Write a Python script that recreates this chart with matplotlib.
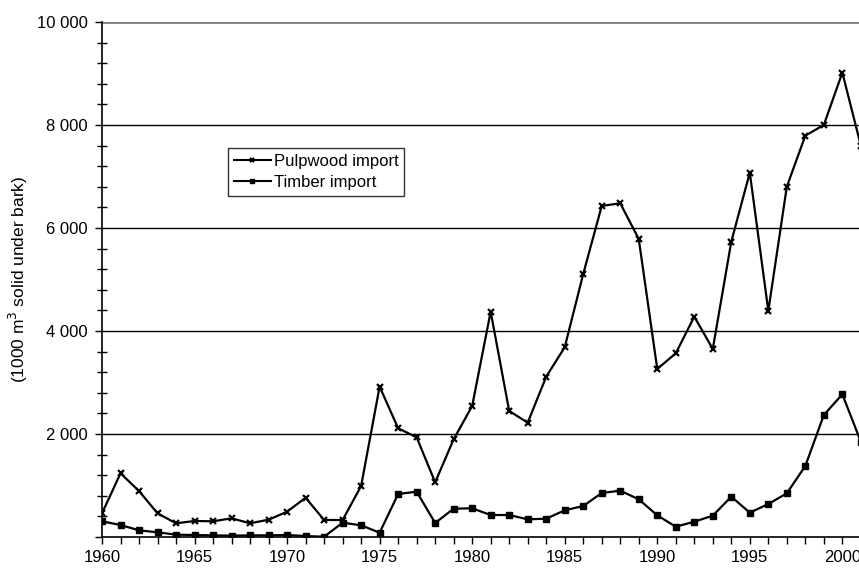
import matplotlib
matplotlib.use("Agg")
import matplotlib.pyplot as plt
from matplotlib.ticker import MultipleLocator, FuncFormatter

plt.rcParams['font.family'] = ['Liberation Sans', 'DejaVu Sans']

years = list(range(1960, 2002))
pulpwood = [460, 1237, 893, 460, 266, 311, 305, 363, 266, 336,
            491, 763, 330, 330, 990, 2919, 2111, 1936, 1062, 1897,
            2544, 4376, 2447, 2220, 3113, 3684, 5107, 6428, 6480, 5787,
            3263, 3567, 4278, 3651, 5735, 7075, 4389, 6803, 7793, 8001,
            9017, 7600]
timber = [305, 233, 130, 91, 45, 39, 32, 26, 32, 32,
          39, 19, 5, 278, 227, 84, 835, 880, 272, 550,
          557, 427, 427, 343, 356, 518, 602, 854, 900, 732,
          421, 200, 297, 414, 783, 472, 641, 848, 1379, 2369,
          2771, 1850]

fig = plt.figure(figsize=(8.59, 5.70), dpi=100)
ax = fig.add_axes([102/859, 1 - 537/570, (859 - 102)/859, (537 - 22)/570])

for yv in [2000, 4000, 6000, 8000]:
    ax.axhline(yv, color='black', lw=1.0, zorder=1)
ax.axhline(10000, color='#808080', lw=2.0, zorder=1)

ax.plot(years, pulpwood, color='black', lw=1.6, marker='x', markersize=5,
        markeredgewidth=1.6, label='Pulpwood import', zorder=3)
ax.plot(years, timber, color='black', lw=1.6, marker='s', markersize=4.5,
        label='Timber import', zorder=3)

ax.set_xlim(1960, 2000.9)
ax.set_ylim(0, 10000)

ax.xaxis.set_major_locator(MultipleLocator(5))
ax.xaxis.set_minor_locator(MultipleLocator(1))
ax.yaxis.set_major_locator(MultipleLocator(2000))
ax.yaxis.set_minor_locator(MultipleLocator(400))

def yfmt(v, pos):
    if v <= 0:
        return ''
    return f"{int(v):,}".replace(',', ' ')
ax.yaxis.set_major_formatter(FuncFormatter(yfmt))

ax.tick_params(axis='x', which='both', direction='out', length=5, width=1,
               labelsize=12, pad=4)
ax.tick_params(axis='y', which='major', direction='out', length=5, width=1,
               labelsize=12, pad=5)
ax.tick_params(axis='y', which='minor', direction='inout', length=7, width=1)

for s in ['top', 'right']:
    ax.spines[s].set_visible(False)
for s in ['left', 'bottom']:
    ax.spines[s].set_linewidth(1.2)
    ax.spines[s].set_color('black')

ax.set_ylabel('(1000 m$^3$ solid under bark)', fontsize=12.5)
ax.yaxis.set_label_coords((30 - 102) / 757, 0.5)

leg = ax.legend(loc='upper left', bbox_to_anchor=((228-102)/757, (537-148)/515),
                frameon=True, fancybox=False, edgecolor='black', fontsize=12,
                handlelength=2.2, borderpad=0.35, labelspacing=0.35,
                handletextpad=0.2, borderaxespad=0)
leg.get_frame().set_linewidth(1.0)
for h in leg.legend_handles:
    h.set_markersize(3.5)
    h.set_linewidth(1.5)

fig.savefig('out.png', dpi=100)
